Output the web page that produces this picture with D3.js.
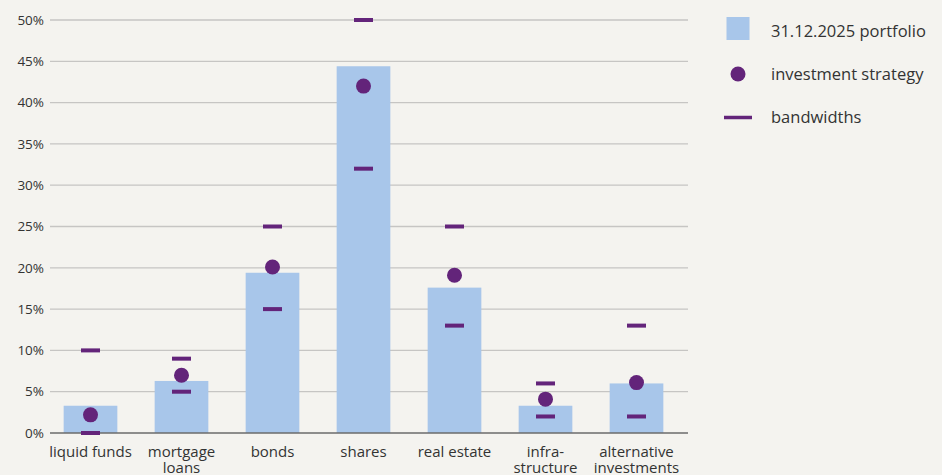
<!DOCTYPE html>
<html>
<head>
<meta charset="utf-8">
<script src="https://cdn.jsdelivr.net/npm/d3@7"></script>
<style>
  body { margin: 0; background: #f4f3ef; }
  text { font-family: "Open Sans", "DejaVu Sans", sans-serif; fill: #333; }
</style>
</head>
<body>
<script>
// chart data
const categories = [["liquid funds"], ["mortgage", "loans"], ["bonds"], ["shares"], ["real estate"], ["infra-", "structure"], ["alternative", "investments"]];
const portfolio = [3.3, 6.3, 19.4, 44.4, 17.6, 3.3, 6.0];
const strategy = [2.2, 7.0, 20.1, 42.0, 19.1, 4.1, 6.1];
const bandLow = [0, 5, 15, 32, 13, 2, 2];
const bandHigh = [10, 9, 25, 50, 25, 6, 13];
const yTicks = [0, 5, 10, 15, 20, 25, 30, 35, 40, 45, 50];
const legendItems = ["31.12.2025 portfolio", "investment strategy", "bandwidths"];

const width = 942, height = 475;
const margin = {left: 50, right: 254, top: 20, bottom: 42};
const purple = "#63247a", barColor = "#a8c6ea";

const svg = d3.select("body").append("svg")
    .attr("width", width)
    .attr("height", height);

// categories sit a little left of the plot centre, like the original
const x = d3.scaleBand()
    .domain(d3.range(categories.length))
    .range([45, 682])
    .paddingInner(0.41)
    .paddingOuter(0.205);

const y = d3.scaleLinear()
    .domain([0, 50])
    .range([height - margin.bottom, margin.top]);

// grid lines
svg.append("g")
  .selectAll("line")
  .data(yTicks.slice(1))
  .enter().append("line")
    .attr("x1", margin.left)
    .attr("x2", width - margin.right)
    .attr("y1", d => y(d))
    .attr("y2", d => y(d))
    .style("stroke", "#c6c5c3")
    .style("stroke-width", 1.3);

// y labels
svg.append("g")
  .selectAll("text")
  .data(yTicks)
  .enter().append("text")
    .attr("x", margin.left - 6)
    .attr("y", d => y(d))
    .attr("dy", "0.35em")
    .attr("text-anchor", "end")
    .style("font-size", "13.5px")
    .text(d => d + "%");

// bars
svg.selectAll(".bar")
  .data(portfolio)
  .enter().append("rect")
    .attr("class", "bar")
    .attr("x", (d, i) => x(i))
    .attr("width", x.bandwidth())
    .attr("y", d => y(d))
    .attr("height", d => y(0) - y(d))
    .style("fill", barColor);

// baseline
svg.append("line")
    .attr("x1", margin.left)
    .attr("x2", width - margin.right)
    .attr("y1", y(0))
    .attr("y2", y(0))
    .style("stroke", "#6b6b6b")
    .style("stroke-width", 1.5);

// bandwidth dashes
const dashW = 19, dashH = 4;
const bands = bandLow.map((d, i) => ({i: i, v: d})).concat(bandHigh.map((d, i) => ({i: i, v: d})));
svg.selectAll(".band")
  .data(bands)
  .enter().append("rect")
    .attr("class", "band")
    .attr("x", d => x(d.i) + x.bandwidth() / 2 - dashW / 2)
    .attr("y", d => y(d.v) - dashH / 2)
    .attr("width", dashW)
    .attr("height", dashH)
    .style("fill", purple);

// strategy dots
svg.selectAll(".dot")
  .data(strategy)
  .enter().append("circle")
    .attr("class", "dot")
    .attr("cx", (d, i) => x(i) + x.bandwidth() / 2)
    .attr("cy", d => y(d))
    .attr("r", 7.5)
    .style("fill", purple);

// category labels
const labels = svg.append("g")
  .selectAll("text")
  .data(categories)
  .enter().append("text")
    .attr("x", (d, i) => x(i) + x.bandwidth() / 2)
    .attr("y", y(0) + 24)
    .attr("text-anchor", "middle")
    .style("font-size", "15px");
labels.selectAll("tspan")
  .data(d => d)
  .enter().append("tspan")
    .attr("x", function() { return this.parentNode.getAttribute("x"); })
    .attr("dy", (d, j) => j === 0 ? 0 : 16)
    .text(d => d);

// legend
const legend = svg.append("g").attr("transform", "translate(738,0)");
legend.append("rect")
    .attr("x", -11.5).attr("y", 17)
    .attr("width", 23).attr("height", 23)
    .style("fill", barColor);
legend.append("circle")
    .attr("cx", 0).attr("cy", 74).attr("r", 7.5)
    .style("fill", purple);
legend.append("line")
    .attr("x1", -14).attr("x2", 14)
    .attr("y1", 117.5).attr("y2", 117.5)
    .style("stroke", purple)
    .style("stroke-width", 3.5);
legend.selectAll(".ltext")
  .data(legendItems)
  .enter().append("text")
    .attr("class", "ltext")
    .attr("x", 33)
    .attr("y", (d, i) => 31 + i * 43)
    .attr("dy", "0.35em")
    .style("font-size", "16.5px")
    .text(d => d);
</script>
</body>
</html>
